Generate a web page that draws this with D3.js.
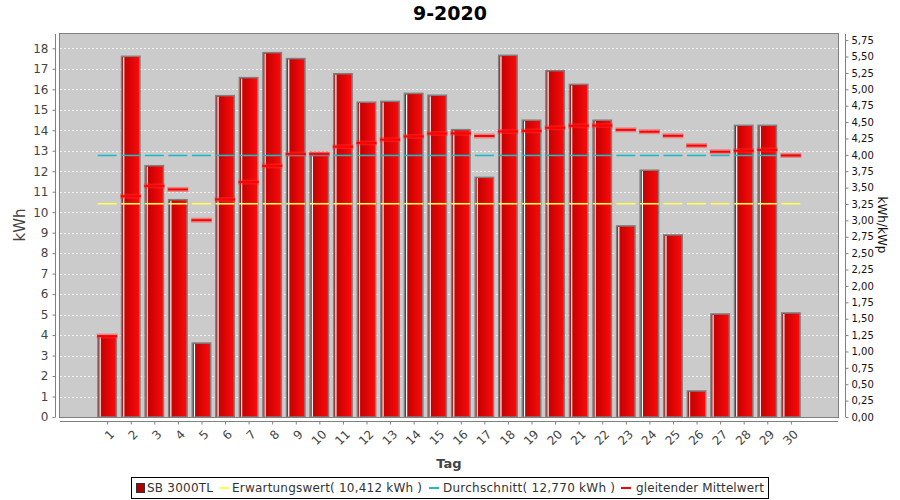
<!DOCTYPE html>
<html>
<head>
<meta charset="utf-8">
<script src="https://cdn.jsdelivr.net/npm/d3@7"></script>
<style>
  html, body { margin: 0; padding: 0; background: #fff; }
  svg { display: block; font-family: "DejaVu Sans", sans-serif; }
</style>
</head>
<body>
<svg id="chart" width="900" height="500"></svg>
<script>
// ---- data ----
const days = [1,2,3,4,5,6,7,8,9,10,11,12,13,14,15,16,17,18,19,20,21,22,23,24,25,26,27,28,29,30];
const production = [3.95,17.61,12.27,10.61,3.61,15.69,16.57,17.79,17.50,12.87,16.76,15.37,15.41,15.80,15.71,14.03,11.70,17.66,14.49,16.91,16.24,14.49,9.33,12.05,8.89,1.27,5.03,14.24,14.24,5.08];
const movingAvg = [3.95,10.78,11.28,11.11,9.61,10.62,11.47,12.26,12.84,12.85,13.20,13.38,13.54,13.70,13.84,13.85,13.72,13.94,13.97,14.12,14.22,14.23,14.02,13.93,13.73,13.25,12.95,13.00,13.04,12.77];
const expectedValue = 10.412;
const averageValue = 12.770;
const leftTicks = [0,1,2,3,4,5,6,7,8,9,10,11,12,13,14,15,16,17,18];
const rightTicks = [0,0.25,0.5,0.75,1,1.25,1.5,1.75,2,2.25,2.5,2.75,3,3.25,3.5,3.75,4,4.25,4.5,4.75,5,5.25,5.5,5.75];
const kWp = 3.2;
const title = "9-2020";
const legendLabels = ["SB 3000TL", "Erwartungswert( 10,412 kWh )", "Durchschnitt( 12,770 kWh )", "gleitender Mittelwert"];

// ---- layout ----
const svg = d3.select("#chart");
const P = {left: 60, right: 838, top: 34, bottom: 417};
const yMax = 18.7;
const x = d3.scaleLinear().domain([-1, 32]).range([P.left, P.right]);
const y = d3.scaleLinear().domain([0, yMax]).range([P.bottom, P.top]);
const y2 = d3.scaleLinear().domain([0, yMax / kWp]).range([P.bottom, P.top]);
const barW = 18.4;

const defs = svg.append("defs");
const grad = defs.append("linearGradient").attr("id", "barGrad").attr("x1", "0").attr("x2", "1").attr("y1", "0").attr("y2", "0");
grad.append("stop").attr("offset", "0%").attr("stop-color", "#b80000");
grad.append("stop").attr("offset", "100%").attr("stop-color", "#ff0a0a");

// title
svg.append("text").attr("x", 450).attr("y", 20).attr("text-anchor", "middle")
  .attr("font-size", 19).attr("font-weight", "bold").attr("fill", "#000").text(title);

// plot background
svg.append("rect").attr("x", P.left).attr("y", P.top).attr("width", P.right - P.left).attr("height", P.bottom - P.top)
  .attr("fill", "#cbcbcb");

// gridlines
svg.append("g").selectAll("line").data(leftTicks.filter(d => d > 0)).join("line")
  .attr("x1", P.left).attr("x2", P.right).attr("y1", d => Math.round(y(d)) + 0.5).attr("y2", d => Math.round(y(d)) + 0.5)
  .attr("stroke", "#efefef").attr("stroke-width", 1).attr("stroke-dasharray", "2,2");

// bars
const bars = svg.append("g");
const bg = bars.selectAll("g").data(days).join("g");
bg.append("rect")
  .attr("x", (d) => x(d) - barW / 2).attr("y", (d, i) => y(production[i]))
  .attr("width", barW).attr("height", (d, i) => P.bottom - y(production[i]))
  .attr("fill", "url(#barGrad)").attr("stroke", "#7f7f7f").attr("stroke-width", 1.5);
bg.append("line")
  .attr("x1", d => x(d) - barW / 2 + 2.2).attr("x2", d => x(d) - barW / 2 + 2.2)
  .attr("y1", (d, i) => y(production[i]) + 1).attr("y2", P.bottom - 0.5)
  .attr("stroke", "#ffffff").attr("stroke-width", 1.2);

// expectation & average segments
const seg = svg.append("g");
seg.selectAll("line.exp").data(days).join("line").attr("class", "exp")
  .attr("x1", d => x(d) - 9.5).attr("x2", d => x(d) + 9.5)
  .attr("y1", y(expectedValue)).attr("y2", y(expectedValue))
  .attr("stroke", "#ffff55").attr("stroke-width", 1.6);
seg.selectAll("line.avg").data(days).join("line").attr("class", "avg")
  .attr("x1", d => x(d) - 9.5).attr("x2", d => x(d) + 9.5)
  .attr("y1", y(averageValue)).attr("y2", y(averageValue))
  .attr("stroke", "#1cbcc4").attr("stroke-width", 1.6);

// moving average dashes (with glow)
const ma = svg.append("g");
ma.selectAll("line.glow").data(days).join("line").attr("class", "glow")
  .attr("x1", d => x(d) - 10.5).attr("x2", d => x(d) + 10.5)
  .attr("y1", (d, i) => y(movingAvg[i])).attr("y2", (d, i) => y(movingAvg[i]))
  .attr("stroke", "#ff3030").attr("stroke-opacity", 0.45).attr("stroke-width", 5);
ma.selectAll("line.core").data(days).join("line").attr("class", "core")
  .attr("x1", d => x(d) - 10).attr("x2", d => x(d) + 10)
  .attr("y1", (d, i) => y(movingAvg[i])).attr("y2", (d, i) => y(movingAvg[i]))
  .attr("stroke", "#ff0000").attr("stroke-width", 2);

// plot outline
svg.append("rect").attr("x", P.left - 0.5).attr("y", P.top - 0.5).attr("width", P.right - P.left + 1).attr("height", P.bottom - P.top + 1)
  .attr("fill", "none").attr("stroke", "#808080").attr("stroke-width", 1);

// left axis
const leftAxis = d3.axisLeft(y).tickValues(leftTicks).tickSize(3).tickPadding(4).tickFormat(d3.format("d"));
const gl = svg.append("g").attr("transform", "translate(55.5,0)").call(leftAxis);
gl.select(".domain").attr("stroke", "#808080").attr("d", `M0,${P.top}V${P.bottom}`);
gl.selectAll(".tick line").attr("stroke", "#808080");
gl.selectAll(".tick text").attr("font-size", 12).attr("fill", "#444").attr("font-family", "DejaVu Sans");

// right axis
const rightAxis = d3.axisRight(y2).tickValues(rightTicks).tickSize(3).tickPadding(3)
  .tickFormat(d => d3.format(".2f")(d).replace(".", ","));
const gr = svg.append("g").attr("transform", "translate(845.5,0)").call(rightAxis);
gr.select(".domain").attr("stroke", "#808080").attr("d", `M0,${P.top}V${P.bottom}`);
gr.selectAll(".tick line").attr("stroke", "#808080");
gr.selectAll(".tick text").attr("font-size", 10).attr("fill", "#111").attr("font-family", "DejaVu Sans");

// bottom axis
const bottomAxis = d3.axisBottom(x).tickValues(days).tickSize(3).tickFormat(d3.format("d"));
const gb = svg.append("g").attr("transform", "translate(0,421.5)").call(bottomAxis);
gb.select(".domain").attr("stroke", "#808080").attr("d", `M${P.left},0H${P.right}`);
gb.selectAll(".tick line").attr("stroke", "#808080");
gb.selectAll(".tick text").attr("font-size", 12).attr("fill", "#444").attr("font-family", "DejaVu Sans")
  .attr("text-anchor", "end").attr("dy", null).attr("y", null)
  .attr("transform", "translate(5,11) rotate(-45)").attr("dominant-baseline", "middle");

// axis titles
svg.append("text").attr("transform", "translate(25,225) rotate(-90)").attr("text-anchor", "middle")
  .attr("font-size", 15).attr("fill", "#444").text("kWh");
svg.append("text").attr("transform", "translate(878,225) rotate(90)").attr("text-anchor", "middle")
  .attr("font-size", 12).attr("fill", "#111").text("kWh/kWp");
svg.append("text").attr("x", 449).attr("y", 468).attr("text-anchor", "middle")
  .attr("font-size", 13).attr("font-weight", "bold").attr("fill", "#444").text("Tag");

// legend
const lg = svg.append("g");
lg.append("rect").attr("x", 131.5).attr("y", 477.5).attr("width", 637).attr("height", 21)
  .attr("fill", "#fff").attr("stroke", "#000").attr("stroke-width", 1);
const ly = 488;
const swatchX = [136, 219, 429, 621];
const textX = [147, 232, 443, 636];
const textW = [66, 190, 172, 128];
const swatchColors = ["#b00000", "#ffff55", "#1cbcc4", "#ff0000"];
legendLabels.forEach((lab, i) => {
  if (i === 0) {
    lg.append("rect").attr("x", swatchX[i] + 0.5).attr("y", ly - 4.5).attr("width", 8).attr("height", 9)
      .attr("fill", swatchColors[0]).attr("stroke", "#333").attr("stroke-width", 1);
  } else {
    lg.append("line").attr("x1", swatchX[i]).attr("x2", swatchX[i] + 10).attr("y1", ly).attr("y2", ly)
      .attr("stroke", swatchColors[i]).attr("stroke-width", 2);
  }
  lg.append("text").attr("x", textX[i]).attr("y", ly).attr("dominant-baseline", "middle")
    .attr("font-size", 12).attr("fill", "#333")
    .attr("textLength", textW[i]).attr("lengthAdjust", "spacing").text(lab);
});
</script>
</body>
</html>
